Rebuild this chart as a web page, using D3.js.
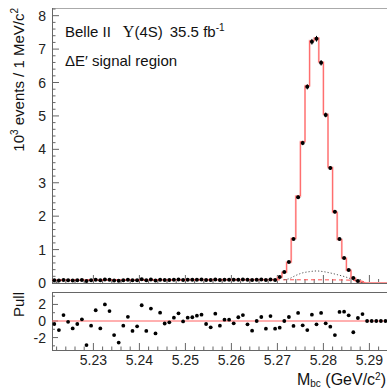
<!DOCTYPE html>
<html><head><meta charset="utf-8">
<script src="https://cdn.jsdelivr.net/npm/d3@7"></script>
<style>
html,body{margin:0;padding:0;background:#fff;}
svg{display:block;font-family:"Liberation Sans",Arial,Helvetica,sans-serif;}
</style></head>
<body><svg id="c" width="387" height="390"></svg>
<script>
// ---- data (Mbc bins of 1 MeV starting at 5.221 GeV) ----
const binStart = 5.221;
const binWidth = 0.001;
const nBins = 73;
// data: 10^3 events per bin (empty bins after index 66)
const counts = [
 0.082,0.075,0.092,0.085,0.078,0.083,0.089,0.060,0.082,0.100,
 0.079,0.107,0.100,0.073,0.065,0.084,0.095,0.079,0.084,0.109,
 0.080,0.106,0.077,0.101,0.089,0.091,0.097,0.102,0.093,0.097,
 0.098,0.100,0.102,0.092,0.088,0.104,0.090,0.098,0.098,0.094,
 0.101,0.104,0.094,0.087,0.098,0.103,0.090,0.105,0.091,
 0.18,0.33,0.63,1.32,2.57,4.19,5.87,7.22,7.31,6.59,
 5.03,3.44,2.13,1.32,0.75,0.39,0.15,0.06
];
// total fit, per bin
const fitTotal = [
 0.085,0.085,0.086,0.086,0.086,0.087,0.087,0.087,0.087,0.088,
 0.088,0.088,0.089,0.089,0.089,0.090,0.090,0.090,0.090,0.091,
 0.091,0.091,0.092,0.092,0.092,0.093,0.093,0.093,0.093,0.094,
 0.094,0.094,0.095,0.095,0.095,0.096,0.096,0.096,0.096,0.097,
 0.097,0.097,0.098,0.098,0.098,0.099,0.099,0.099,0.100,
 0.17,0.32,0.62,1.33,2.60,4.23,5.90,7.25,7.33,6.61,
 5.05,3.46,2.12,1.30,0.74,0.38,0.14,0.05,
 0.01,0,0,0,0,0
];
// combinatorial background (red dashed)
const bkgX = [5.221,5.235,5.250,5.265,5.275,5.281,5.285,5.2875,5.2888,5.2893];
const bkgY = [0.085,0.088,0.092,0.095,0.096,0.094,0.088,0.070,0.040,0.0];
// peaking component (dotted)
const peakX = [5.2715,5.2726,5.2739,5.2754,5.2770,5.2785,5.2800,5.2815,5.2830,5.2846,5.2859,5.2873,5.2885];
const peakY = [0.10,0.13,0.22,0.30,0.34,0.36,0.34,0.30,0.25,0.19,0.13,0.06,0.01];
// pulls per bin
const pulls = [
 -0.36,-1.1,0.72,-0.1,-0.9,-0.36,0.2,-2.9,-0.56,1.3,
 -0.9,2.0,1.2,-1.7,-2.6,-0.56,0.5,-1.2,-0.64,1.9,
 -1.2,1.5,-1.5,1.0,-0.3,-0.16,0.4,0.93,-0.05,0.4,
 0.45,0.64,0.76,-0.36,-0.76,0.88,-0.57,0.16,0.16,-0.28,
 0.45,0.72,-0.4,-1.17,0,0.48,-0.93,0.6,-0.93,-0.8,
 0,0.48,-0.6,0.97,-0.52,-1.1,0.76,-0.4,0.97,-0.28,
 -0.69,-1.7,1.09,1.12,0.69,-1.36,0.36,0.84,0,0,
 0,0,0
];
const xTicks = [5.23,5.24,5.25,5.26,5.27,5.28,5.29];
const yTicks = [0,1,2,3,4,5,6,7,8];
const pullTicks = [-2,0,2];

// ---- layout ----
const svg = d3.select("#c");
const L = 52, R = 387.8;
const mainTop = 8, mainBot = 283;
const pullTop = 292, pullBot = 350;
const x = d3.scaleLinear().domain([binStart, binStart + nBins*binWidth]).range([L, R]);
const y = d3.scaleLinear().domain([0, 8.23]).range([mainBot, mainTop]);
const yp = d3.scaleLinear().domain([-3.5, 3.5]).range([pullBot, pullTop]);
const centers = d3.range(nBins).map(i => binStart + (i+0.5)*binWidth);
const FS = 14;
const axisCol = "#666";

// frames
svg.append("line").attr("x1",L).attr("x2",R+2).attr("y1",mainTop+0.5).attr("y2",mainTop+0.5).attr("stroke","#aaa").attr("stroke-width",1);
svg.append("line").attr("x1",L).attr("x2",R+2).attr("y1",mainBot+0.5).attr("y2",mainBot+0.5).attr("stroke",axisCol).attr("stroke-width",1);
svg.append("line").attr("x1",L+0.5).attr("x2",L+0.5).attr("y1",mainTop).attr("y2",mainBot).attr("stroke",axisCol).attr("stroke-width",1);
svg.append("line").attr("x1",L).attr("x2",R+2).attr("y1",pullTop+0.5).attr("y2",pullTop+0.5).attr("stroke",axisCol).attr("stroke-width",1);
svg.append("line").attr("x1",L).attr("x2",R+2).attr("y1",pullBot+0.5).attr("y2",pullBot+0.5).attr("stroke",axisCol).attr("stroke-width",1);
svg.append("line").attr("x1",L+0.5).attr("x2",L+0.5).attr("y1",pullTop).attr("y2",pullBot).attr("stroke",axisCol).attr("stroke-width",1);

// ticks: x on main bottom & pull bottom
const xMinor = d3.range(5.222, 5.2941, 0.002);
function xTicksAt(yBase, majLen, minLen){
  const g = svg.append("g");
  xMinor.forEach(v => {
    const isMaj = xTicks.some(t => Math.abs(t - v) < 1e-6);
    g.append("line").attr("x1",x(v)).attr("x2",x(v)).attr("y1",yBase).attr("y2",yBase-(isMaj?majLen:minLen)).attr("stroke",axisCol).attr("stroke-width",1);
  });
}
xTicksAt(mainBot, 8, 4);
xTicksAt(pullBot, 7, 3.5);

// y ticks main
d3.range(0, 8.21, 0.2).forEach(v => {
  const isMaj = Math.abs(v - Math.round(v)) < 1e-6;
  svg.append("line").attr("x1",L).attr("x2",L+(isMaj?7:3.5)).attr("y1",y(v)).attr("y2",y(v)).attr("stroke",axisCol).attr("stroke-width",1);
});
svg.append("g").selectAll("text").data(yTicks).join("text")
  .attr("x",46).attr("y",d=>y(d)+5).attr("text-anchor","end").attr("font-size",FS).attr("fill","#222").text(d=>d);

// pull y ticks
d3.range(-3, 3.01, 1).forEach(v => {
  const isMaj = Math.abs(v % 2) < 1e-6;
  svg.append("line").attr("x1",L).attr("x2",L+(isMaj?6:3)).attr("y1",yp(v)).attr("y2",yp(v)).attr("stroke",axisCol).attr("stroke-width",1);
});
svg.append("g").selectAll("text").data(pullTicks).join("text")
  .attr("x",46).attr("y",d=>yp(d)+5).attr("text-anchor","end").attr("font-size",FS).attr("fill","#222").text(d=>d);

// x tick labels
svg.append("g").selectAll("text").data(xTicks).join("text")
  .attr("x",d=>x(d)).attr("y",365).attr("text-anchor","middle").attr("font-size",FS).attr("fill","#222").text(d=>d.toFixed(2));

// ---- main panel curves ----
svg.append("clipPath").attr("id","mc").append("rect").attr("x",L).attr("y",mainTop).attr("width",R-L).attr("height",mainBot-mainTop);

// total fit as step histogram
const stepLine = d3.line().x(d=>x(d[0])).y(d=>y(d[1])).curve(d3.curveStepAfter);
const stepPts = fitTotal.map((v,i)=>[binStart+i*binWidth, v]);
stepPts.push([binStart+nBins*binWidth, fitTotal[nBins-1]]);
svg.append("path").attr("d",stepLine(stepPts)).attr("fill","none").attr("stroke","#ffc4c4").attr("stroke-width",2).attr("clip-path","url(#mc)");
svg.append("path").attr("d",stepLine(stepPts)).attr("fill","none").attr("stroke","#ff5a5a").attr("stroke-width",0.9).attr("clip-path","url(#mc)");

// background dashed
const smooth = d3.line().x(d=>x(d[0])).y(d=>y(d[1])).curve(d3.curveMonotoneX);
svg.append("path").attr("d",smooth(bkgX.map((v,i)=>[v,bkgY[i]]))).attr("fill","none")
  .attr("stroke","#ff5050").attr("stroke-width",1).attr("stroke-dasharray","4,3");
// peaking dotted
svg.append("path").attr("d",smooth(peakX.map((v,i)=>[v,peakY[i]]))).attr("fill","none")
  .attr("stroke","#555").attr("stroke-width",1).attr("stroke-dasharray","1.2,2");

// data points with error bars
const dataPts = counts.map((v,i)=>({c:centers[i], v}));
svg.append("g").selectAll("line").data(dataPts).join("line")
  .attr("x1",d=>x(d.c)).attr("x2",d=>x(d.c))
  .attr("y1",d=>y(d.v+Math.sqrt(d.v*1000)/1000)).attr("y2",d=>y(d.v-Math.sqrt(d.v*1000)/1000))
  .attr("stroke","#000").attr("stroke-width",1);
svg.append("g").selectAll("circle").data(dataPts).join("circle")
  .attr("cx",d=>x(d.c)).attr("cy",d=>y(d.v)).attr("r",2).attr("fill","#000");

// ---- pull panel ----
svg.append("line").attr("x1",L).attr("x2",R).attr("y1",yp(0)).attr("y2",yp(0)).attr("stroke","#ff6060").attr("stroke-width",1);
svg.append("g").selectAll("circle").data(pulls).join("circle")
  .attr("cx",(d,i)=>x(centers[i])).attr("cy",d=>yp(d)).attr("r",1.9).attr("fill","#000");

// ---- texts ----
const t1 = svg.append("text").attr("x",65).attr("y",37).attr("font-size",15).attr("fill","#111");
t1.append("tspan").text("Belle II");
t1.append("tspan").attr("dx",12).attr("font-family","'Liberation Serif',serif").attr("font-size",16).text("\u03A5");
t1.append("tspan").text("(4S)");
t1.append("tspan").attr("dx",7).text("35.5 fb");
t1.append("tspan").attr("dy",-6).attr("font-size",10).text("-1");
svg.append("text").attr("x",65).attr("y",66).attr("font-size",15).attr("fill","#111").text("\u0394E\u2032 signal region");

// y axis title
const yt = svg.append("text").attr("transform","translate(24,8) rotate(-90)").attr("text-anchor","end").attr("font-size",15).attr("fill","#111");
yt.append("tspan").text("10");
yt.append("tspan").attr("dy",-6).attr("font-size",10).text("3");
yt.append("tspan").attr("dy",6).text(" events / 1 MeV/c");
yt.append("tspan").attr("dy",-6).attr("font-size",10).text("2");

svg.append("text").attr("transform","translate(24,292) rotate(-90)").attr("text-anchor","end").attr("font-size",15).attr("fill","#111").text("Pull");

// x title
const xt = svg.append("text").attr("x",386).attr("y",385).attr("text-anchor","end").attr("font-size",16).attr("fill","#111");
xt.append("tspan").text("M");
xt.append("tspan").attr("dy",2).attr("font-size",10).text("bc");
xt.append("tspan").attr("dy",-2).text(" (GeV/c");
xt.append("tspan").attr("dy",-5).attr("font-size",10).text("2");
xt.append("tspan").attr("dy",5).text(")");
</script></body></html>
